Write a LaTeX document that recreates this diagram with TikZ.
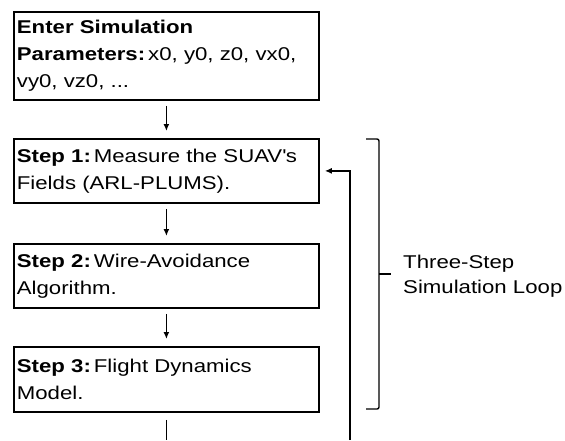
\documentclass[tikz,border=0pt]{standalone}
\usepackage{fontspec}
\setmainfont[FakeStretch=1.2]{Liberation Sans}
\usetikzlibrary{arrows.meta}
\begin{document}
\begin{tikzpicture}[x=1pt,y=-1pt,
  every node/.style={font=\fontsize{18.5}{27}\selectfont},
  stepbox/.style={draw=black,line width=1.8pt,minimum width=305pt,text width=299pt,inner xsep=3pt,inner ysep=4pt,align=left,anchor=north west},
  arr/.style={line width=1.5pt,-{Latex[length=7pt,width=6pt]}},
  brk/.style={line width=1.4pt,rounded corners=2pt}]
\useasboundingbox (0,0) rectangle (565,440);
\node[stepbox,minimum height=88pt] (b1) at (13,11) {\textbf{Enter Simulation}\\\textbf{Parameters:}\hspace{3pt}x0, y0, z0, vx0,\\vy0, vz0, ...};
\node[stepbox,minimum height=64pt] (b2) at (13,138) {\textbf{Step 1:}\hspace{3pt}Measure the SUAV\textquotesingle s\\Fields (ARL-PLUMS).};
\node[stepbox,minimum height=64pt] (b3) at (13,243) {\textbf{Step 2:}\hspace{3pt}Wire-Avoidance\\Algorithm.};
\node[stepbox,minimum height=65pt] (b4) at (13,346) {\textbf{Step 3:}\hspace{3pt}Flight Dynamics\\Model.};
\draw[arr,shorten <=5pt,shorten >=7pt] (b1.south) -- (b2.north);
\draw[arr,shorten <=5pt,shorten >=7pt] (b2.south) -- (b3.north);
\draw[arr,shorten <=5pt,shorten >=7pt] (b3.south) -- (b4.north);
\coordinate (out) at (b4.south |- 0,440);
\draw[line width=1.5pt,shorten <=7pt] (b4.south) -- (out);
\coordinate (fb) at (350,440);
\draw[arr,shorten >=5pt] (fb) |- (b2.east);
\coordinate (bt) at (366,139);
\coordinate (bb) at (366,409);
\coordinate (bm) at (379,274);
\draw[brk] (bt) -- (379,139) -- (379,409) -- (bb);
\draw[line width=1.4pt] (bm) -- ++(12,0) coordinate (bm2);
\node[anchor=west,align=left,inner sep=0pt,font=\fontsize{18.5}{25}\selectfont] (lbl) at (403,276) {Three-Step\\Simulation Loop};
\end{tikzpicture}
\end{document}
